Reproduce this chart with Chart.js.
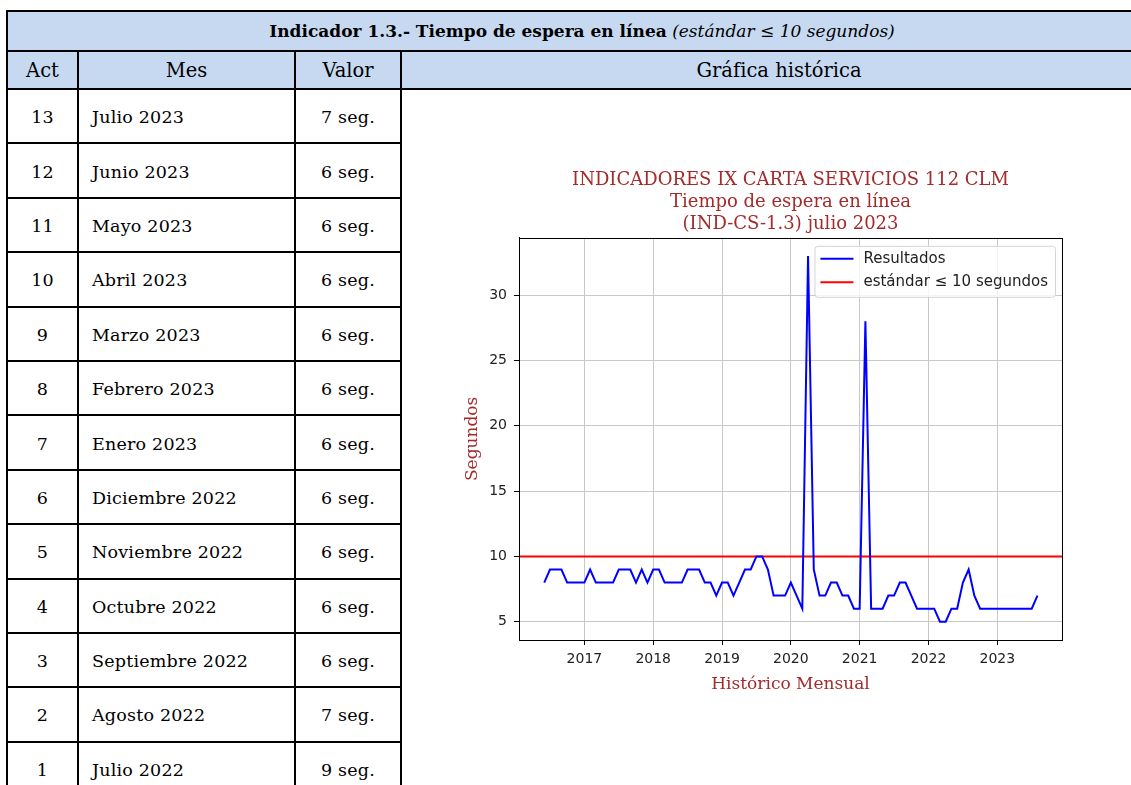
<!DOCTYPE html>
<html lang="es">
<head>
<meta charset="utf-8">
<script src="https://cdn.jsdelivr.net/npm/chart.js@4.4.0/dist/chart.umd.min.js"></script>
<style>
  html, body { margin: 0; padding: 0; background: #fff; overflow: hidden; }
  body { width: 1131px; height: 785px; position: relative; }
  #tabla {
    position: absolute; left: 6px; top: 10px;
    border-collapse: collapse; table-layout: fixed; width: 1150px;
    font-family: "DejaVu Serif", serif; font-size: 17.5px; letter-spacing: 0.2px; color: #000;
  }
  #tabla td { border: 2px solid #000; padding: 2px 0 0 0; vertical-align: middle; }
  #tabla .cab td { background: #c6d9f1; text-align: center; padding: 0; }
  #tabla .cab1 td { font-size: 17px; letter-spacing: 0; }
  #tabla .cab2 td { font-size: 19.5px; letter-spacing: 0; }
  #tabla .c { text-align: center; }
  #tabla .mes { padding-left: 13px; }
  #grafica { position: absolute; left: 402px; top: 91px; width: 729px; height: 694px; }
</style>
</head>
<body>
<table id="tabla">
  <colgroup>
    <col style="width:71px"><col style="width:217px"><col style="width:106px"><col style="width:756px">
  </colgroup>
  <tbody id="cuerpo">
    <tr class="cab cab1" style="height:40px">
      <td colspan="4"><b>Indicador 1.3.- Tiempo de espera en línea</b> <i>(estándar ≤ 10 segundos)</i></td>
    </tr>
    <tr class="cab cab2" style="height:38px">
      <td>Act</td><td>Mes</td><td>Valor</td><td>Gráfica histórica</td>
    </tr>
  </tbody>
</table>
<div id="grafica"><canvas id="myChart" width="729" height="694"></canvas></div>

<script>
// tabla de la izquierda
const filasAct = [13, 12, 11, 10, 9, 8, 7, 6, 5, 4, 3, 2, 1];
const filasMes = ['Julio 2023', 'Junio 2023', 'Mayo 2023', 'Abril 2023', 'Marzo 2023', 'Febrero 2023',
  'Enero 2023', 'Diciembre 2022', 'Noviembre 2022', 'Octubre 2022', 'Septiembre 2022', 'Agosto 2022', 'Julio 2022'];
const filasValor = [7, 6, 6, 6, 6, 6, 6, 6, 6, 6, 6, 7, 9];

// serie mensual mayo 2016 - julio 2023
const inicioAnyo = 2016;
const inicioMes = 5;
const valores = [
  8, 9, 9, 9, 8, 8, 8, 8,
  9, 8, 8, 8, 8, 9, 9, 9, 8, 9, 8, 9,
  9, 8, 8, 8, 8, 9, 9, 9, 8, 8, 7, 8,
  8, 7, 8, 9, 9, 10, 10, 9, 7, 7, 7, 8,
  7, 6, 33, 9, 7, 7, 8, 8, 7, 7, 6, 6,
  28, 6, 6, 6, 7, 7, 8, 8, 7, 6, 6, 6,
  6, 5, 5, 6, 6, 8, 9, 7, 6, 6, 6, 6,
  6, 6, 6, 6, 6, 6, 7
];
const estandar = 10;
const anyosTicks = [2017, 2018, 2019, 2020, 2021, 2022, 2023];
const segundosTicks = [5, 10, 15, 20, 25, 30];

var cuerpo = document.getElementById('cuerpo');
for (var i = 0; i < filasAct.length; i++) {
  var tr = document.createElement('tr');
  tr.style.height = '54.4px';
  tr.innerHTML = '<td class="c">' + filasAct[i] + '</td><td class="mes">' + filasMes[i] +
    '</td><td class="c">' + filasValor[i] + ' seg.</td>' + (i === 0 ? '<td rowspan="13"></td>' : '');
  cuerpo.appendChild(tr);
}

// fecha fin de mes -> año decimal
const puntos = valores.map(function (v, k) {
  var m = inicioMes + k;
  return { x: inicioAnyo + m / 12, y: v };
});

const xMin = 2016.05, xMax = 2023.94;
const rojo = '#a52a2a';

const marcoPlugin = {
  id: 'marco',
  afterDatasetsDraw(chart) {
    const c = chart.ctx, a = chart.chartArea;
    c.save();
    c.strokeStyle = '#000';
    c.lineWidth = 1;
    c.strokeRect(Math.round(a.left) + 0.5, Math.round(a.top) + 0.5, Math.round(a.right - a.left), Math.round(a.bottom - a.top));
    c.restore();
  }
};

const leyendaPlugin = {
  id: 'leyenda',
  afterDraw(chart) {
    const c = chart.ctx, a = chart.chartArea;
    const ds = chart.data.datasets;
    c.save();
    c.font = '15px "DejaVu Sans"';
    var tw = 0;
    ds.forEach(function (d) { tw = Math.max(tw, c.measureText(d.label).width); });
    var w = 49 + tw + 7, h = 51;
    var x = a.right - 7 - w, y = a.top + 8;
    c.beginPath();
    c.roundRect(x + 0.5, y + 0.5, w, h, 3);
    c.fillStyle = 'rgba(255,255,255,0.8)';
    c.fill();
    c.strokeStyle = '#d4d4d4';
    c.lineWidth = 1;
    c.stroke();
    c.textBaseline = 'middle';
    ds.forEach(function (d, k) {
      var yy = y + 13 + k * 23.5;
      c.beginPath();
      c.strokeStyle = d.borderColor;
      c.lineWidth = 2;
      c.moveTo(x + 6, yy);
      c.lineTo(x + 39, yy);
      c.stroke();
      c.fillStyle = '#222';
      c.fillText(d.label, x + 49, yy);
    });
    c.restore();
  }
};

const ctx = document.getElementById('myChart');
new Chart(ctx, {
  type: 'line',
  data: {
    datasets: [{
      label: 'Resultados',
      data: puntos,
      borderColor: '#0000ff',
      borderWidth: 2,
      pointRadius: 0,
      tension: 0
    }, {
      label: 'estándar ≤ 10 segundos',
      data: [{ x: xMin, y: estandar }, { x: xMax, y: estandar }],
      borderColor: '#ff0000',
      borderWidth: 2,
      pointRadius: 0
    }]
  },
  options: {
    responsive: false,
    animation: false,
    layout: { padding: { left: 57, right: 69, top: 79, bottom: 85 } },
    plugins: {
      legend: { display: false },
      tooltip: { enabled: false },
      title: {
        display: true,
        fullSize: false,
        text: ['INDICADORES IX CARTA SERVICIOS 112 CLM', 'Tiempo de espera en línea', '(IND-CS-1.3) julio 2023'],
        color: rojo,
        font: { family: 'DejaVu Serif', size: 18, weight: 'normal', lineHeight: 1.2 },
        padding: { top: 0, bottom: 3 }
      }
    },
    scales: {
      x: {
        type: 'linear',
        min: xMin,
        max: xMax,
        afterBuildTicks: function (s) { s.ticks = anyosTicks.map(function (v) { return { value: v }; }); },
        afterFit: function (s) { s.height = 60; },
        ticks: {
          color: '#222', font: { family: 'DejaVu Sans', size: 14 }, padding: 6,
          maxRotation: 0, autoSkip: false,
          callback: function (v) { return String(v); }
        },
        grid: { color: '#c8c8c8', tickColor: '#000', tickLength: 5, lineWidth: 1 },
        border: { color: '#000', width: 1 },
        title: { display: true, text: 'Histórico Mensual', color: rojo, font: { family: 'DejaVu Serif', size: 17 }, padding: { top: 0, bottom: 5 } }
      },
      y: {
        min: 3.6,
        max: 34.4,
        afterBuildTicks: function (s) { s.ticks = segundosTicks.map(function (v) { return { value: v }; }); },
        afterFit: function (s) { s.width = 60; },
        ticks: {
          color: '#222', font: { family: 'DejaVu Sans', size: 14 }, padding: 7,
          callback: function (v) { return String(v); }
        },
        grid: { color: '#c8c8c8', tickColor: '#000', tickLength: 5, lineWidth: 1 },
        border: { color: '#000', width: 1 },
        title: { display: true, text: 'Segundos', color: rojo, font: { family: 'DejaVu Serif', size: 17 }, padding: { top: 3, bottom: 0 } }
      }
    }
  },
  plugins: [marcoPlugin, leyendaPlugin]
});
</script>
</body>
</html>
